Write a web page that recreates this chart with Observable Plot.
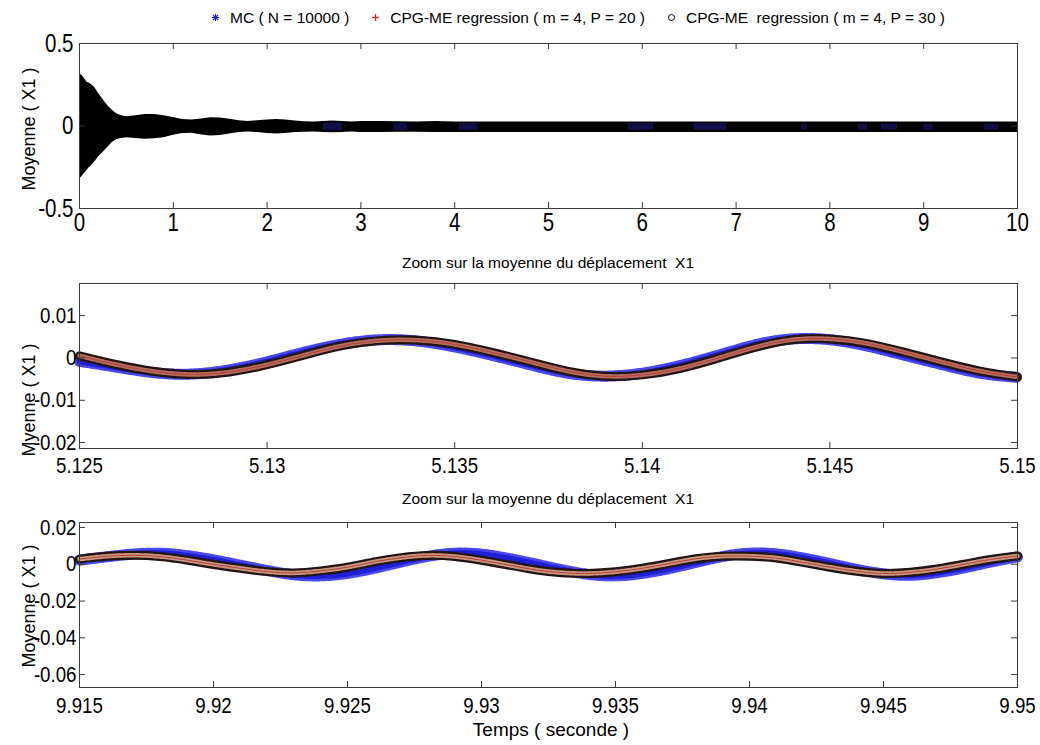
<!DOCTYPE html>
<html>
<head>
<meta charset="utf-8">
<script src="https://cdn.jsdelivr.net/npm/d3@7"></script>
<script src="https://cdn.jsdelivr.net/npm/@observablehq/plot@0.6"></script>
<style>
  body { margin: 0; background: #fff; font-family: "Liberation Sans", Arial, sans-serif; color: #000; }
  #wrap { position: relative; width: 1040px; height: 745px; overflow: hidden; background: #fff; }
  .panel { position: absolute; left: 0; }
  .panel svg { overflow: visible; }
  .ctext { position: absolute; white-space: pre; transform: translate(-50%, -50%); line-height: 1; }
  .ylab { position: absolute; white-space: pre; font-size: 18px; line-height: 1; transform: translate(-50%, -50%) rotate(-90deg); }
  #legend { position: absolute; top: 10px; left: 578px; transform: translateX(-50%); display: flex; align-items: center; white-space: pre; font-size: 15.5px; line-height: 1; }
  #legend .item { display: flex; align-items: center; margin: 0 11px; }
  #legend svg { margin-right: 10px; }
</style>
</head>
<body>
<div id="wrap"></div>
<script>
// ---------------- DATA ----------------
const legendLabels = ["MC ( N = 10000 )", "CPG-ME regression ( m = 4, P = 20 )", "CPG-ME  regression ( m = 4, P = 30 )"];
const seriesColors = ["#1f1fd6", "#e02020", "#000000"];
const panelTitle = "Zoom sur la moyenne du déplacement  X1";
const yAxisTitles = ["Moyenne ( X1 )", "Myenne ( X1 )", "Moyenne ( X1 )"];
const xAxisTitle = "Temps ( seconde )";

// Panel 1: envelope of the dense oscillation
const envT = [0, 0.02, 0.05, 0.08, 0.1, 0.13, 0.16, 0.2, 0.25, 0.3, 0.35, 0.4, 0.45, 0.5, 0.6, 0.7, 0.8, 0.9, 1.0, 1.1, 1.2, 1.3, 1.4, 1.5, 1.6, 1.7, 1.8, 1.9, 2.0, 2.1, 2.2, 2.3, 2.4, 2.5, 2.6, 2.7, 2.8, 2.9, 3.0, 3.2, 3.4, 3.6, 3.8, 4.0, 4.5, 5.0, 5.5, 6.0, 6.5, 7.0, 7.5, 8.0, 8.5, 9.0, 9.5, 10];
const envUpper = [0.31, 0.31, 0.29, 0.265, 0.26, 0.25, 0.235, 0.2, 0.16, 0.125, 0.095, 0.072, 0.062, 0.056, 0.062, 0.069, 0.069, 0.062, 0.052, 0.04, 0.036, 0.043, 0.05, 0.049, 0.041, 0.032, 0.028, 0.032, 0.037, 0.039, 0.036, 0.031, 0.026, 0.024, 0.027, 0.03, 0.027, 0.024, 0.027, 0.028, 0.026, 0.025, 0.027, 0.025, 0.025, 0.025, 0.025, 0.025, 0.024, 0.024, 0.024, 0.024, 0.024, 0.024, 0.024, 0.024];
const envLower = [-0.32, -0.31, -0.29, -0.27, -0.255, -0.24, -0.22, -0.19, -0.16, -0.13, -0.1, -0.082, -0.075, -0.071, -0.075, -0.08, -0.078, -0.071, -0.056, -0.046, -0.044, -0.054, -0.061, -0.058, -0.049, -0.04, -0.037, -0.04, -0.045, -0.048, -0.045, -0.04, -0.038, -0.037, -0.039, -0.041, -0.039, -0.037, -0.039, -0.04, -0.038, -0.038, -0.039, -0.039, -0.039, -0.039, -0.039, -0.039, -0.039, -0.039, -0.039, -0.039, -0.039, -0.039, -0.039, -0.039];
// Panel 1: where the blue MC markers show through
const mcPatchStart = [2.6, 3.35, 4.05, 5.85, 6.55, 7.7, 8.3, 8.55, 9.0, 9.65];
const mcPatchEnd   = [2.8, 3.5, 4.25, 6.12, 6.9, 7.76, 8.4, 8.72, 9.1, 9.8];
const mcPatchAmp   = [0.02, 0.018, 0.018, 0.018, 0.018, 0.016, 0.016, 0.016, 0.016, 0.016];

// Panel 2: zoom 5.125 - 5.15
const t2 = [5.125, 5.126, 5.127, 5.128, 5.129, 5.130, 5.131, 5.132, 5.133, 5.134, 5.135, 5.136, 5.137, 5.138, 5.139, 5.140, 5.141, 5.142, 5.143, 5.144, 5.145, 5.146, 5.147, 5.148, 5.149, 5.150];
const mc2 = [-0.0008, -0.0022, -0.0035, -0.0038, -0.0028, -0.0009, 0.0014, 0.0033, 0.0043, 0.0040, 0.0026, 0.0006, -0.0016, -0.0036, -0.0043, -0.0036, -0.0018, 0.0006, 0.0031, 0.0045, 0.0043, 0.0028, 0.0006, -0.0016, -0.0036, -0.0046];
const cpg20_2 = [0.0005, -0.0016, -0.0032, -0.0039, -0.0033, -0.0016, 0.0007, 0.0029, 0.0041, 0.0042, 0.0032, 0.0013, -0.0009, -0.0031, -0.0043, -0.0040, -0.0025, -0.0001, 0.0025, 0.0043, 0.0045, 0.0034, 0.0013, -0.0010, -0.0031, -0.0045];
const cpg30_2 = [0.0005, -0.0016, -0.0032, -0.0039, -0.0033, -0.0016, 0.0007, 0.0029, 0.0041, 0.0042, 0.0032, 0.0013, -0.0009, -0.0031, -0.0043, -0.0040, -0.0025, -0.0001, 0.0025, 0.0043, 0.0045, 0.0034, 0.0013, -0.0010, -0.0031, -0.0045];

// Panel 3: zoom 9.915 - 9.95
const t3 = [9.915, 9.916, 9.917, 9.918, 9.919, 9.920, 9.921, 9.922, 9.923, 9.924, 9.925, 9.926, 9.927, 9.928, 9.929, 9.930, 9.931, 9.932, 9.933, 9.934, 9.935, 9.936, 9.937, 9.938, 9.939, 9.940, 9.941, 9.942, 9.943, 9.944, 9.945, 9.946, 9.947, 9.948, 9.949, 9.950];
const mc3 = [0.0022, 0.0040, 0.0055, 0.0060, 0.0047, 0.0024, -0.0005, -0.0034, -0.0057, -0.0063, -0.0050, -0.0022, 0.0012, 0.0043, 0.0060, 0.0055, 0.0032, 0.0002, -0.0030, -0.0055, -0.0063, -0.0050, -0.0024, 0.0010, 0.0042, 0.0060, 0.0056, 0.0034, 0.0004, -0.0028, -0.0052, -0.0060, -0.0046, -0.0020, 0.0012, 0.0040];
const cpg20_3 = [0.0028, 0.0043, 0.0049, 0.0042, 0.0023, -0.0001, -0.0022, -0.0040, -0.0047, -0.0036, -0.0016, 0.0013, 0.0036, 0.0048, 0.0042, 0.0022, -0.0004, -0.0030, -0.0046, -0.0050, -0.0041, -0.0022, 0.0004, 0.0030, 0.0044, 0.0044, 0.0034, 0.0010, -0.0016, -0.0038, -0.0050, -0.0044, -0.0026, 0.0000, 0.0026, 0.0045];
const cpg30_3 = [0.0028, 0.0043, 0.0049, 0.0042, 0.0023, -0.0001, -0.0022, -0.0040, -0.0047, -0.0036, -0.0016, 0.0013, 0.0036, 0.0048, 0.0042, 0.0022, -0.0004, -0.0030, -0.0046, -0.0050, -0.0041, -0.0022, 0.0004, 0.0030, 0.0044, 0.0044, 0.0034, 0.0010, -0.0016, -0.0038, -0.0050, -0.0044, -0.0026, 0.0000, 0.0026, 0.0045];

// Axis ticks and labels
const xTicks1 = [0, 1, 2, 3, 4, 5, 6, 7, 8, 9, 10];
const xTickLabels1 = ["0", "1", "2", "3", "4", "5", "6", "7", "8", "9", "10"];
const yTicks1 = [-0.5, 0, 0.5];
const yTickLabels1 = ["-0.5", "0", "0.5"];
const xTicks2 = [5.125, 5.13, 5.135, 5.14, 5.145, 5.15];
const xTickLabels2 = ["5.125", "5.13", "5.135", "5.14", "5.145", "5.15"];
const yTicks2 = [-0.02, -0.01, 0, 0.01];
const yTickLabels2 = ["-0.02", "-0.01", "0", "0.01"];
const xTicks3 = [9.915, 9.92, 9.925, 9.93, 9.935, 9.94, 9.945, 9.95];
const xTickLabels3 = ["9.915", "9.92", "9.925", "9.93", "9.935", "9.94", "9.945", "9.95"];
const yTicks3 = [-0.06, -0.04, -0.02, 0, 0.02];
const yTickLabels3 = ["-0.06", "-0.04", "-0.02", "0", "0.02"];

// ---------------- DRAWING ----------------
const wrap = document.getElementById("wrap");
const FRAME = "#3a3a3a";
const W = 1040, ML = 79, MR = 23;

// horizontally condense tick labels around their anchor
function squeeze(svg, s) {
  svg.querySelectorAll('g[aria-label$="tick label"] text').forEach(t => {
    const xa = t.getAttribute("x");
    let x = 0;
    if (xa !== null && !isNaN(+xa)) { x = +xa; t.removeAttribute("x"); }
    const tr = t.getAttribute("transform") || "";
    t.setAttribute("transform", `${tr} translate(${x},0) scale(${s},1)`);
  });
}

function makePanel(cfg) {
  const pw = W - ML - MR, ph = cfg.height - cfg.marginTop - cfg.marginBottom;
  const marks = [
    ...cfg.marks,
    Plot.frame({stroke: FRAME, strokeWidth: 1}),
    Plot.tickX(cfg.xTicks, {x: d => d, insetTop: ph - 6, stroke: FRAME}),
    Plot.tickX(cfg.xTicks, {x: d => d, insetBottom: ph - 6, stroke: FRAME}),
    Plot.tickY(cfg.yTicks, {y: d => d, insetRight: pw - 6, stroke: FRAME}),
    Plot.tickY(cfg.yTicks, {y: d => d, insetLeft: pw - 6, stroke: FRAME}),
    Plot.axisX(cfg.xTicks, {tickSize: 0, tickPadding: cfg.xPad, fontSize: cfg.fs, label: null,
      tickFormat: d => cfg.xTickLabels[cfg.xTicks.indexOf(d)]}),
    Plot.axisY(cfg.yTicks, {tickSize: 0, tickPadding: cfg.yPad, fontSize: cfg.fs, label: null,
      tickFormat: d => cfg.yTickLabels[cfg.yTicks.indexOf(d)]})
  ];
  const svg = Plot.plot({
    width: W, height: cfg.height,
    marginLeft: ML, marginRight: MR, marginTop: cfg.marginTop, marginBottom: cfg.marginBottom,
    x: {domain: cfg.xDomain},
    y: {domain: cfg.yDomain},
    style: {fontFamily: '"Liberation Sans", Arial, sans-serif', background: "transparent", color: "#000", overflow: "visible"},
    marks
  });
  squeeze(svg, cfg.sq);
  const div = document.createElement("div");
  div.className = "panel";
  div.style.top = cfg.top + "px";
  div.appendChild(svg);
  wrap.appendChild(div);
}

// Panel 1
const env = envT.map((t, i) => ({t, hi: envUpper[i], lo: envLower[i]}));
const patches = mcPatchStart.map((s, i) => ({s, e: mcPatchEnd[i], a: mcPatchAmp[i]}));
makePanel({
  top: 0, height: 245, marginTop: 43, marginBottom: 37, xPad: 5, yPad: 6, fs: 25, sq: 0.82,
  xDomain: [0, 10], yDomain: [-0.5, 0.5],
  xTicks: xTicks1, xTickLabels: xTickLabels1, yTicks: yTicks1, yTickLabels: yTickLabels1,
  marks: [
    Plot.areaY(env, {x: "t", y1: "lo", y2: "hi", fill: "#000", curve: "linear"}),
    Plot.rect(patches, {x1: "s", x2: "e", y1: d => -d.a - 0.008, y2: d => d.a - 0.004, fill: "#20208c", fillOpacity: 0.5})
  ]
});

function waveMarks(t, mc, c20, c30, tex) {
  const mcD = t.map((x, i) => ({x, y: mc[i]}));
  const c20D = t.map((x, i) => ({x, y: c20[i]}));
  const c30D = t.map((x, i) => ({x, y: c30[i]}));
  return [
    Plot.line(mcD, {x: "x", y: "y", stroke: "#4848ee", strokeWidth: 11, strokeDasharray: "1.2 1.6", curve: "natural"}),
    Plot.line(mcD, {x: "x", y: "y", stroke: seriesColors[0], strokeWidth: 6, curve: "natural", strokeLinecap: "round"}),
    Plot.line(c30D, {x: "x", y: "y", stroke: "#241414", strokeWidth: 9, curve: "natural", strokeLinecap: "round"}),
    Plot.line(c20D, {x: "x", y: "y", stroke: tex, strokeWidth: 4.5, strokeDasharray: "2.5 1.5", curve: "natural"}),
    Plot.line(c20D, {x: "x", y: "y", stroke: "#c03a30", strokeWidth: 1, curve: "natural"})
  ];
}

// Panel 2
makePanel({
  top: 245, height: 240, marginTop: 38, marginBottom: 37, xPad: 9, yPad: 3, fs: 22, sq: 0.85,
  xDomain: [5.125, 5.15], yDomain: [-0.0214, 0.0176],
  xTicks: xTicks2, xTickLabels: xTickLabels2, yTicks: yTicks2, yTickLabels: yTickLabels2,
  marks: waveMarks(t2, mc2, cpg20_2, cpg30_2, "#b07060")
});

// Panel 3
makePanel({
  top: 485, height: 260, marginTop: 37, marginBottom: 58, xPad: 10, yPad: 3, fs: 22, sq: 0.85,
  xDomain: [9.915, 9.95], yDomain: [-0.067, 0.0227],
  xTicks: xTicks3, xTickLabels: xTickLabels3, yTicks: yTicks3, yTickLabels: yTickLabels3,
  marks: waveMarks(t3, mc3, cpg20_3, cpg30_3, "#c49a80")
});

// Texts
function addText(cls, txt, x, y, size) {
  const d = document.createElement("div");
  d.className = cls;
  d.textContent = txt;
  d.style.left = x + "px";
  d.style.top = y + "px";
  if (size) d.style.fontSize = size + "px";
  wrap.appendChild(d);
  return d;
}
addText("ylab", yAxisTitles[0], 29, 129);
addText("ylab", yAxisTitles[1], 29, 400);
addText("ylab", yAxisTitles[2], 29, 606);
addText("ctext", panelTitle, 548, 263, 15.5);
addText("ctext", panelTitle, 548, 499, 15.5);
addText("ctext", xAxisTitle, 551, 729, 19);

// Legend
const legend = document.createElement("div");
legend.id = "legend";
const symbols = [
  `<svg width="9" height="9" viewBox="-4.5 -4.5 9 9"><g stroke="${seriesColors[0]}" stroke-width="1.1"><line x1="-3.5" y1="0" x2="3.5" y2="0"/><line x1="0" y1="-3.5" x2="0" y2="3.5"/><line x1="-2.5" y1="-2.5" x2="2.5" y2="2.5"/><line x1="-2.5" y1="2.5" x2="2.5" y2="-2.5"/></g></svg>`,
  `<svg width="9" height="9" viewBox="-4.5 -4.5 9 9"><g stroke="${seriesColors[1]}" stroke-width="1.3"><line x1="-3.5" y1="0" x2="3.5" y2="0"/><line x1="0" y1="-3.5" x2="0" y2="3.5"/></g></svg>`,
  `<svg width="9" height="9" viewBox="-4.5 -4.5 9 9"><circle r="3" fill="none" stroke="${seriesColors[2]}" stroke-width="1"/></svg>`
];
legendLabels.forEach((lab, i) => {
  const it = document.createElement("div");
  it.className = "item";
  it.innerHTML = symbols[i] + `<span>${lab}</span>`;
  legend.appendChild(it);
});
wrap.appendChild(legend);
</script>
</body>
</html>
